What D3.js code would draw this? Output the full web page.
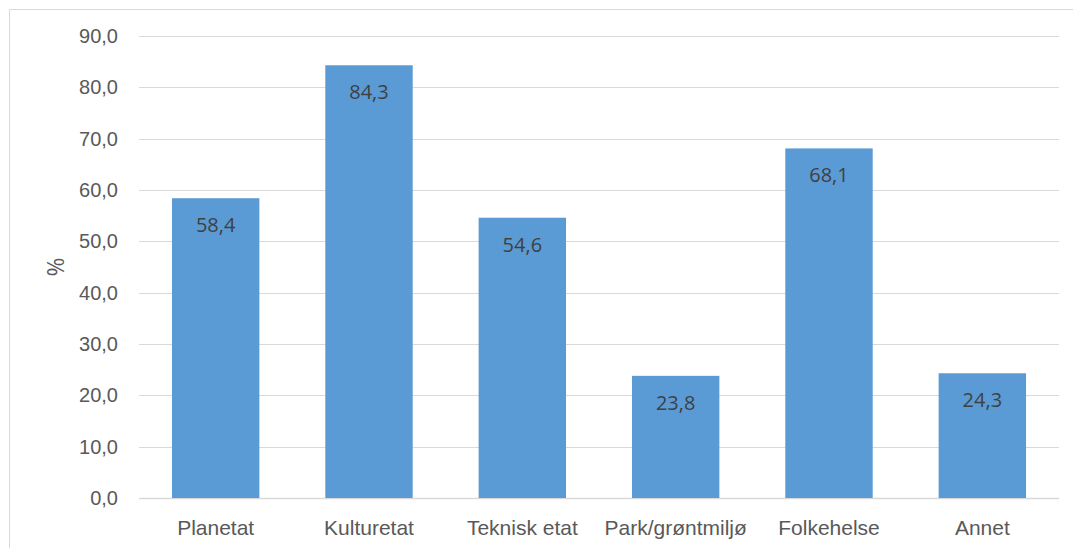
<!DOCTYPE html>
<html>
<head>
<meta charset="utf-8">
<script src="https://cdn.jsdelivr.net/npm/d3@7"></script>
<style>
  body { margin: 0; background: #fff; }
  svg { display: block; font-family: "Open Sans", "Noto Sans", sans-serif; }
</style>
</head>
<body>
<svg id="chart"></svg>
<script>
var categories = ["Planetat", "Kulturetat", "Teknisk etat", "Park/grøntmiljø", "Folkehelse", "Annet"];
var values = [58.4, 84.3, 54.6, 23.8, 68.1, 24.3];
var yTicks = [0, 10, 20, 30, 40, 50, 60, 70, 80, 90];

var W = 1073, H = 548;
var margin = {top: 36, right: 14, bottom: 50, left: 139};
var width = W - margin.left - margin.right,
    height = H - margin.top - margin.bottom;

var svg = d3.select("#chart").attr("width", W).attr("height", H);

// outer frame (top + left only visible)
svg.append("path")
    .attr("d", "M9.5," + H + "V9.5H" + W)
    .attr("fill", "none")
    .attr("stroke", "#d9d9d9")
    .attr("stroke-width", 1);

var g = svg.append("g").attr("transform", "translate(" + margin.left + "," + margin.top + ")");

var x = d3.scaleBand().domain(categories).range([0, width]).paddingInner(0.43).paddingOuter(0.215);
var y = d3.scaleLinear().domain([0, 90]).range([height, 0]);

var fmt = function(d) { return d3.format(".1f")(d).replace(".", ","); };

// gridlines
g.selectAll(".grid").data(yTicks).enter().append("line")
    .attr("x1", 0).attr("x2", width)
    .attr("y1", function(d) { return Math.round(y(d)) + 0.5; })
    .attr("y2", function(d) { return Math.round(y(d)) + 0.5; })
    .attr("stroke", "#d9d9d9")
    .attr("stroke-width", function(d) { return d === 0 ? 1.5 : 1; });

var yAxis = g.append("g")
    .call(d3.axisLeft(y).tickValues(yTicks).tickFormat(fmt).tickSize(0).tickPadding(21));
yAxis.select(".domain").remove();
yAxis.selectAll("text").attr("fill", "#595959").style("font-size", "20px");

g.selectAll(".bar").data(values).enter().append("rect")
    .attr("x", function(d, i) { return x(categories[i]); })
    .attr("y", function(d) { return y(d); })
    .attr("width", x.bandwidth())
    .attr("height", function(d) { return height - y(d); })
    .attr("fill", "#5b9bd5");

g.selectAll(".lbl").data(values).enter().append("text")
    .attr("x", function(d, i) { return x(categories[i]) + x.bandwidth() / 2; })
    .attr("y", function(d) { return y(d) + 34; })
    .attr("text-anchor", "middle")
    .attr("fill", "#404040")
    .style("font-size", "20px")
    .text(fmt);

var xAxis = g.append("g")
    .attr("transform", "translate(0," + height + ")")
    .call(d3.axisBottom(x).tickSize(0).tickPadding(22));
xAxis.select(".domain").remove();
xAxis.selectAll("text").attr("fill", "#595959").style("font-size", "21px");

svg.append("text")
    .attr("transform", "translate(64," + (margin.top + height / 2) + ") rotate(-90)")
    .attr("text-anchor", "middle")
    .attr("fill", "#595959")
    .style("font-size", "23px")
    .text("%");
</script>
</body>
</html>
